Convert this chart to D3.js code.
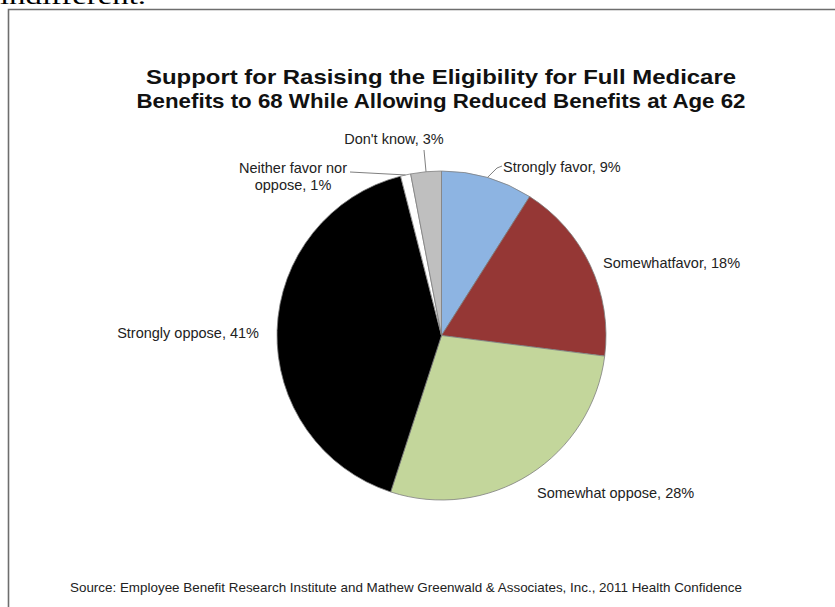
<!DOCTYPE html>
<html>
<head>
<meta charset="utf-8">
<script src="https://cdn.jsdelivr.net/npm/d3@7"></script>
<style>
  body { margin: 0; background: #fff; }
  text { font-family: Arial, "Liberation Sans", sans-serif; }
</style>
</head>
<body>
<div id="chart"></div>
<script>
// chart data
var categories = ["Strongly favor", "Somewhatfavor", "Somewhat oppose", "Strongly oppose", "Neither favor nor oppose", "Don't know"];
var values = [9, 18, 28, 41, 1, 3];
var labelLines = [["Strongly favor, 9%"], ["Somewhatfavor, 18%"], ["Somewhat oppose, 28%"], ["Strongly oppose, 41%"], ["Neither favor nor", "oppose, 1%"], ["Don't know, 3%"]];
var colors = ["#8db4e2", "#953735", "#c3d69b", "#000000", "#ffffff", "#bfbfbf"];

// label layout: anchor point (x,y of first baseline), text-anchor, leader end point or null
var labelLayout = [
    {x: 503, y: 172, anchor: "start", leader: [497, 168]},
    {x: 603, y: 268, anchor: "start", leader: null},
    {x: 537, y: 498, anchor: "start", leader: null},
    {x: 259, y: 338, anchor: "end", leader: null},
    {x: 293, y: 173, anchor: "middle", leader: [350, 172]},
    {x: 394, y: 144, anchor: "middle", leader: [424, 150]}
];

var width = 835, height = 607;
var cx = 441.5, cy = 335.5, radius = 164.5;

var svg = d3.select("#chart")
    .append("svg")
    .attr("width", width)
    .attr("height", height);

// cut-off text from the page above the chart
svg.append("text")
    .attr("x", 0)
    .attr("y", 4)
    .style("font-family", "'Liberation Serif', 'Times New Roman', serif")
    .style("font-size", "24px")
    .attr("textLength", 146)
    .attr("lengthAdjust", "spacingAndGlyphs")
    .text("indifferent.");

// chart frame (runs off the right and bottom edges)
svg.append("path")
    .attr("d", "M8.5," + (height + 5) + "V9.5H" + (width + 5))
    .attr("fill", "none")
    .attr("stroke", "#6e6e6e")
    .attr("stroke-width", 1.6);

// title
var titleLines = ["Support for Rasising the Eligibility for Full Medicare",
                  "Benefits to 68 While Allowing Reduced Benefits at Age 62"];
var titleWidths = [590, 609];
svg.append("g").selectAll("text")
    .data(titleLines)
    .enter()
    .append("text")
    .attr("x", 441)
    .attr("y", function(d, i) { return 84 + i * 24; })
    .attr("text-anchor", "middle")
    .attr("font-size", 20.5)
    .attr("font-weight", "bold")
    .attr("fill", "#111")
    .attr("textLength", function(d, i) { return titleWidths[i]; })
    .attr("lengthAdjust", "spacingAndGlyphs")
    .text(function(d) { return d; });

// pie
var pie = d3.pie().sort(null).value(function(d) { return d; });
var arc = d3.arc().innerRadius(0).outerRadius(radius);
var arcs = pie(values);

var g = svg.append("g")
    .attr("transform", "translate(" + cx + "," + cy + ")");

g.selectAll("path")
    .data(arcs)
    .enter()
    .append("path")
    .attr("d", arc)
    .attr("fill", function(d, i) { return colors[i]; })
    .attr("stroke", "#7f7f7f")
    .attr("stroke-width", 0.8);

// leader lines from slice edge to label
svg.append("g").selectAll("polyline")
    .data(arcs.filter(function(d, i) { return labelLayout[i].leader; }))
    .enter()
    .append("polyline")
    .attr("points", function(d) {
        var mid = (d.startAngle + d.endAngle) / 2;
        var px = cx + radius * Math.sin(mid), py = cy - radius * Math.cos(mid);
        var l = labelLayout[d.index].leader;
        var pts = [[px, py], l];
        if (d.index === 0) pts.push([502, 166]);
        return pts.map(function(p) { return p.join(","); }).join(" ");
    })
    .attr("fill", "none")
    .attr("stroke", "#808080")
    .attr("stroke-width", 1);

// slice labels
var labels = svg.append("g").selectAll("text")
    .data(arcs)
    .enter()
    .append("text")
    .attr("x", function(d) { return labelLayout[d.index].x; })
    .attr("y", function(d) { return labelLayout[d.index].y; })
    .attr("text-anchor", function(d) { return labelLayout[d.index].anchor; })
    .attr("font-size", 14.5)
    .attr("fill", "#222");

labels.selectAll("tspan")
    .data(function(d) { return labelLines[d.index].map(function(t) { return {t: t, x: labelLayout[d.index].x}; }); })
    .enter()
    .append("tspan")
    .attr("x", function(d) { return d.x; })
    .attr("dy", function(d, i) { return i === 0 ? 0 : 17; })
    .text(function(d) { return d.t; });

// source note
svg.append("text")
    .attr("x", 70)
    .attr("y", 592)
    .attr("font-size", 13)
    .attr("fill", "#222")
    .attr("textLength", 672)
    .attr("lengthAdjust", "spacingAndGlyphs")
    .text("Source: Employee Benefit Research Institute and Mathew Greenwald & Associates, Inc., 2011 Health Confidence");
</script>
</body>
</html>
